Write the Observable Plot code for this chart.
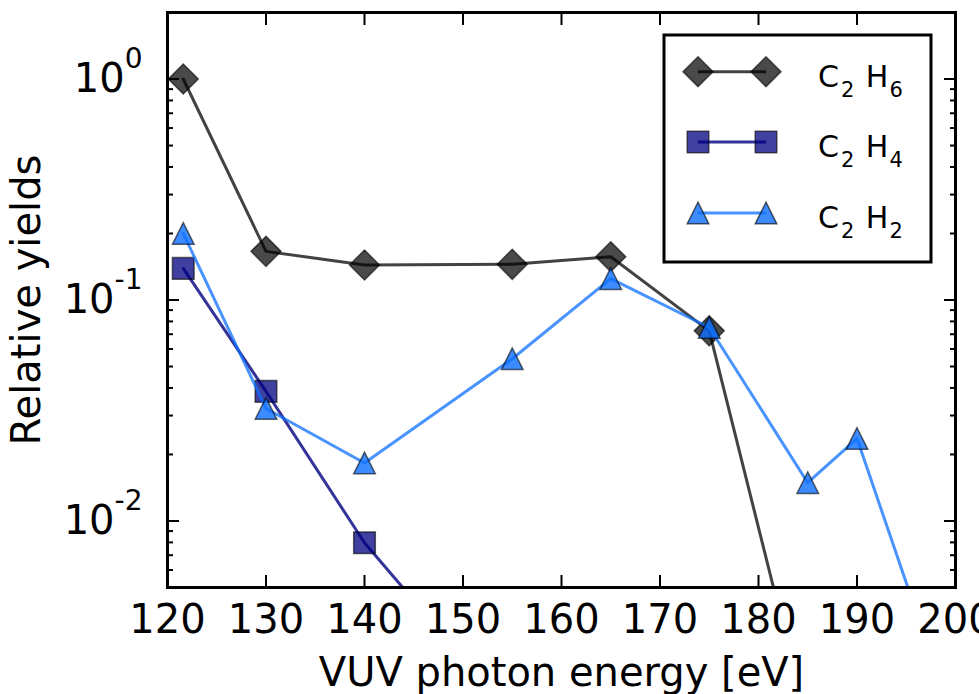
<!DOCTYPE html>
<html>
<head>
<meta charset="utf-8">
<script src="https://cdn.jsdelivr.net/npm/d3@7"></script>
<script src="https://cdn.jsdelivr.net/npm/@observablehq/plot@0.6"></script>
<style>
  html, body { margin: 0; padding: 0; background: #fff; }
  #chart { width: 979px; height: 694px; }
</style>
</head>
<body>
<div id="chart"></div>
<script>
// ---- data ----
const c2h6Energy = [121.6, 130, 140, 155, 165, 175, 185];
const c2h6Yield  = [1.0, 0.166, 0.144, 0.145, 0.157, 0.0725, 0.0012];

const c2h4Energy = [121.6, 130, 140, 150];
const c2h4Yield  = [0.139, 0.0386, 0.00797, 0.0024];

const c2h2Energy = [121.6, 130, 140, 155, 165, 175, 185, 190, 200];
const c2h2Yield  = [0.2, 0.0323, 0.0183, 0.0542, 0.125, 0.0751, 0.0149, 0.0236, 0.00117];

const xTicks = [120, 130, 140, 150, 160, 170, 180, 190, 200];
const yMajorTicks = [1, 0.1, 0.01];
const yMinorTicks = [0.005, 0.006, 0.007, 0.008, 0.009,
  0.02, 0.03, 0.04, 0.05, 0.06, 0.07, 0.08, 0.09,
  0.2, 0.3, 0.4, 0.5, 0.6, 0.7, 0.8, 0.9, 2];

const seriesNames = ["C2H6", "C2H4", "C2H2"];

const toRows = (xs, ys) => xs.map((x, i) => ({x, y: ys[i]}));
const c2h6 = toRows(c2h6Energy, c2h6Yield);
const c2h4 = toRows(c2h4Energy, c2h4Yield);
const c2h2 = toRows(c2h2Energy, c2h2Yield);

// matplotlib-like marker shapes (r = half extent)
const half = size => Math.sqrt(size / Math.PI);
const mplDiamond = {draw(ctx, size) { const h = half(size); ctx.moveTo(0, -h); ctx.lineTo(h, 0); ctx.lineTo(0, h); ctx.lineTo(-h, 0); ctx.closePath(); }};
const mplSquare = {draw(ctx, size) { const h = half(size); ctx.rect(-h, -h, 2 * h, 2 * h); }};
const mplTriangle = {draw(ctx, size) { const h = half(size); ctx.moveTo(0, -h); ctx.lineTo(h, h); ctx.lineTo(-h, h); ctx.closePath(); }};

const styles = {
  C2H6: {line: {stroke: "black", strokeOpacity: 0.74}, dot: {symbol: mplDiamond, r: 15, fill: "black", fillOpacity: 0.71}},
  C2H4: {line: {stroke: "#000080", strokeOpacity: 0.8}, dot: {symbol: mplSquare, r: 10.8, fill: "#000080", fillOpacity: 0.75}},
  C2H2: {line: {stroke: "#0c6fff", strokeOpacity: 0.75}, dot: {symbol: mplTriangle, r: 10.8, fill: "#0c6fff", fillOpacity: 0.8}}
};
const edge = {stroke: "#000", strokeOpacity: 0.6, strokeWidth: 1.5};

const seriesMarks = (rows, name) => [
  Plot.line(rows, {x: "x", y: "y", strokeWidth: 3, clip: true, ...styles[name].line}),
  Plot.dot(rows, {x: "x", y: "y", clip: true, ...edge, ...styles[name].dot})
];

const FS = 40;

const svg = Plot.plot({
  width: 979,
  height: 694,
  marginLeft: 167,
  marginRight: 24,
  marginTop: 12,
  marginBottom: 107,
  style: {fontFamily: "'DejaVu Sans', sans-serif", fontSize: FS + "px", background: "#fff", color: "#000"},
  x: {domain: [120, 200]},
  y: {type: "log", domain: [0.005, 2]},
  marks: [
    ...seriesMarks(c2h6, "C2H6"),
    ...seriesMarks(c2h4, "C2H4"),
    ...seriesMarks(c2h2, "C2H2"),
    // inward ticks
    Plot.axisX(xTicks, {anchor: "bottom", tickSize: -12, strokeWidth: 2, tickFormat: () => "", label: null}),
    Plot.axisX(xTicks, {anchor: "top", tickSize: -12, strokeWidth: 2, tickFormat: () => "", label: null}),
    Plot.axisY(yMajorTicks, {anchor: "left", tickSize: -12, strokeWidth: 2, tickFormat: () => "", label: null}),
    Plot.axisY(yMajorTicks, {anchor: "right", tickSize: -12, strokeWidth: 2, tickFormat: () => "", label: null}),
    Plot.axisY(yMinorTicks, {anchor: "left", tickSize: -6, strokeWidth: 2, tickFormat: () => "", label: null}),
    Plot.axisY(yMinorTicks, {anchor: "right", tickSize: -6, strokeWidth: 2, tickFormat: () => "", label: null}),
    // labels
    Plot.axisX(xTicks, {anchor: "bottom", tickSize: 0, tickPadding: 17, tickFormat: d => String(d),
      label: "VUV photon energy [eV]", labelAnchor: "center", labelArrow: "none", labelOffset: 98}),
    Plot.axisY(yMajorTicks, {anchor: "left", tickSize: 0, tickPadding: 25, tickFormat: d => String(Math.round(Math.log10(d))),
      label: "Relative yields", labelAnchor: "center", labelArrow: "none", labelOffset: 156}),
    Plot.frame({stroke: "#000", strokeWidth: 3})
  ]
});

// superscript exponents for the log tick labels
d3.select(svg).selectAll('g[aria-label="y-axis tick label"] text').each(function() {
  const exp = this.textContent;
  if (exp === "") return;
  const t = d3.select(this);
  t.text("");
  t.append("tspan").text("10");
  t.append("tspan").attr("dy", -24).attr("font-size", 28).text(exp);
});

// legend (inside the frame, upper right)
const lg = d3.select(svg).append("g").attr("font-family", "'DejaVu Sans', sans-serif").attr("text-anchor", "start");
lg.append("rect").attr("x", 664).attr("y", 35).attr("width", 267).attr("height", 227)
  .attr("fill", "#fff").attr("stroke", "#000").attr("stroke-width", 3);
const rowY = [71.7, 142, 213];
const subs = {C2H6: ["2", "6"], C2H4: ["2", "4"], C2H2: ["2", "2"]};
seriesNames.forEach((name, i) => {
  const y = rowY[i];
  const st = styles[name];
  lg.append("line").attr("x1", 698).attr("x2", 766).attr("y1", y).attr("y2", y)
    .attr("stroke", st.line.stroke).attr("stroke-opacity", st.line.strokeOpacity).attr("stroke-width", 3);
  const size = st.dot.r * st.dot.r * Math.PI;
  [698, 766].forEach(mx => {
    lg.append("path").attr("transform", `translate(${mx},${y})`)
      .attr("d", d3.symbol(st.dot.symbol, size)())
      .attr("fill", st.dot.fill).attr("fill-opacity", st.dot.fillOpacity)
      .attr("stroke", edge.stroke).attr("stroke-opacity", edge.strokeOpacity).attr("stroke-width", edge.strokeWidth);
  });
  const t = lg.append("text").attr("x", 818).attr("y", y + 15).attr("font-size", 30).attr("fill", "#000");
  t.append("tspan").text("C");
  t.append("tspan").attr("font-size", 21).attr("dx", 2).attr("dy", 10).text(subs[name][0]);
  t.append("tspan").attr("dx", 2).attr("dy", -10).text("\u00a0H");
  t.append("tspan").attr("font-size", 21).attr("dx", 1).attr("dy", 10).text(subs[name][1]);
});

document.getElementById("chart").appendChild(svg);
</script>
</body>
</html>
